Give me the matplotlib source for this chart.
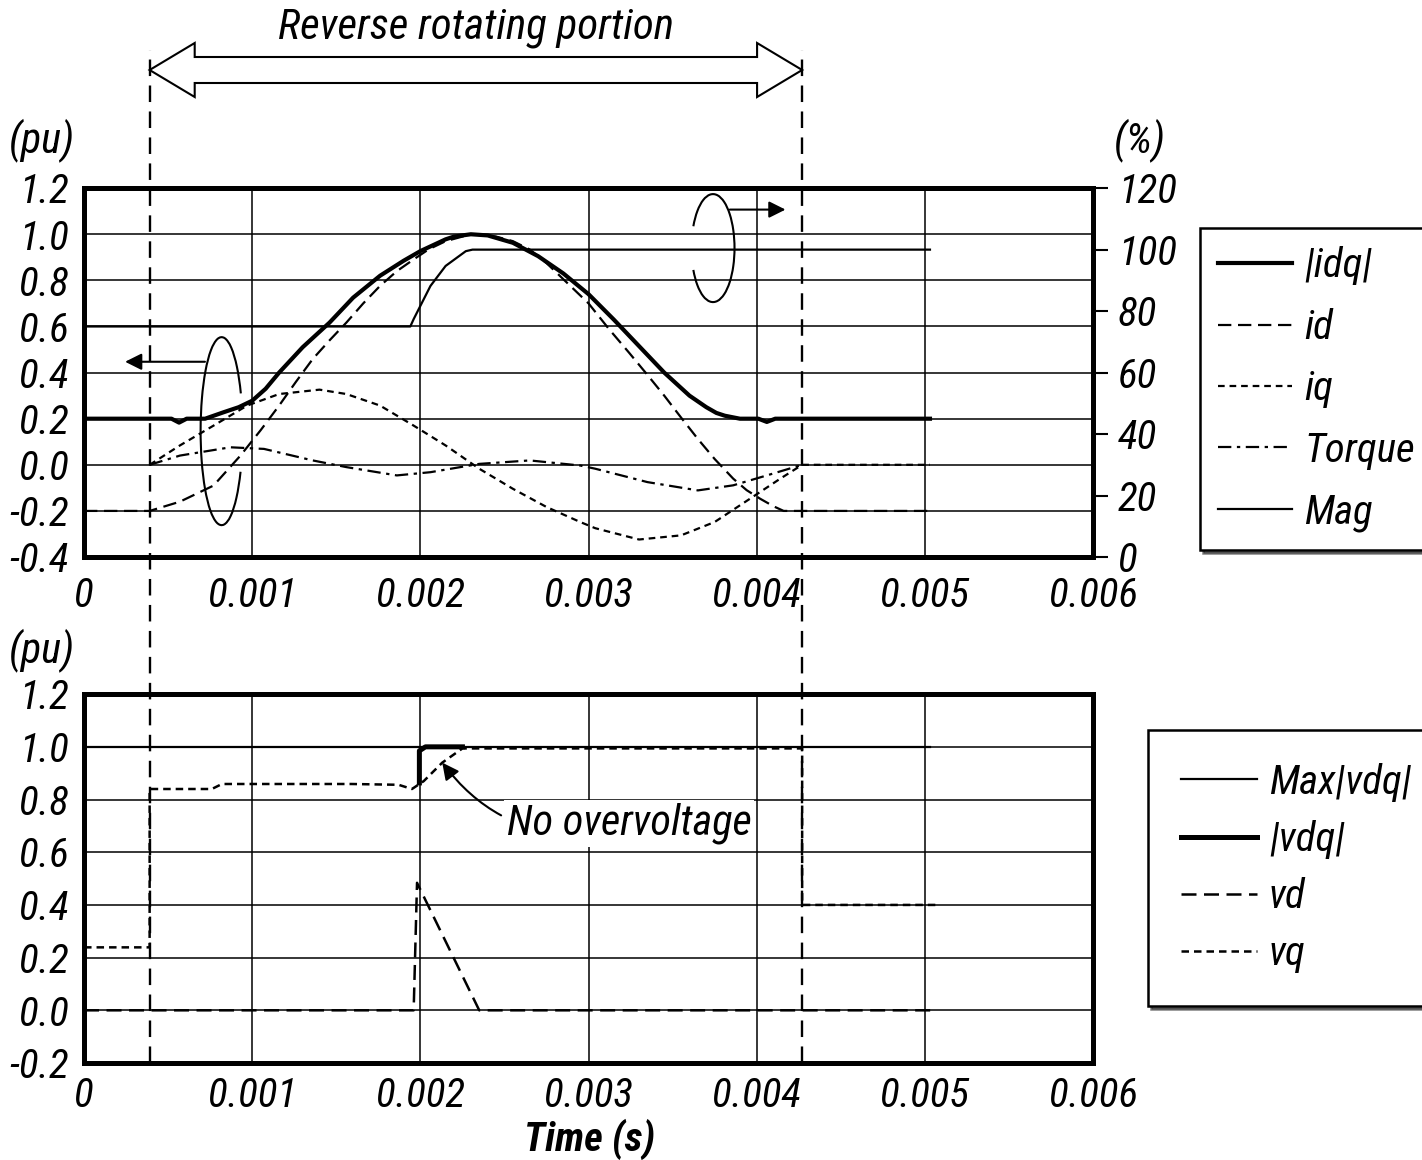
import matplotlib
matplotlib.use("Agg")
import matplotlib.pyplot as plt
import matplotlib.transforms as mtransforms
from matplotlib.patches import Arc, Polygon

plt.rcParams['font.family'] = ['Roboto Condensed', 'Liberation Sans Narrow', 'Liberation Sans', 'DejaVu Sans']
plt.rcParams['font.style'] = 'italic'
plt.rcParams['font.size'] = 29.5
plt.rcParams['axes.unicode_minus'] = False

# ---- dados ----
x_ticks = [0, 0.001, 0.002, 0.003, 0.004, 0.005, 0.006]
x_labels = ['0', '0.001', '0.002', '0.003', '0.004', '0.005', '0.006']
y1_ticks = [-0.4, -0.2, 0.0, 0.2, 0.4, 0.6, 0.8, 1.0, 1.2]
y1_labels = ['-0.4', '-0.2', '0.0', '0.2', '0.4', '0.6', '0.8', '1.0', '1.2']
y2_ticks = [-0.2, 0.0, 0.2, 0.4, 0.6, 0.8, 1.0, 1.2]
y2_labels = ['-0.2', '0.0', '0.2', '0.4', '0.6', '0.8', '1.0', '1.2']
pct_ticks = [0, 20, 40, 60, 80, 100, 120]

# janela de rotacao reversa (s)
rev_start = 0.00039
rev_end = 0.00427

# grafico de cima: correntes (pu) e Mag (%)
idq_t = [0, 0.00052, 0.000565, 0.00061, 0.00072, 0.00083, 0.00092, 0.001, 0.00108, 0.00116,
         0.0013, 0.00146, 0.0016, 0.00176, 0.0019, 0.002, 0.00215, 0.0022, 0.0023, 0.0024,
         0.00255, 0.0027, 0.00285, 0.003, 0.00315, 0.0033, 0.00345, 0.0036, 0.0037,
         0.00376, 0.00381, 0.0039, 0.00401, 0.00406, 0.00411, 0.00503]
idq_v = [0.2, 0.2, 0.183, 0.2, 0.2, 0.228, 0.25, 0.278, 0.33, 0.40,
         0.51, 0.617, 0.725, 0.82, 0.885, 0.927, 0.978, 0.99, 1.0, 0.995,
         0.963, 0.905, 0.83, 0.74, 0.63, 0.515, 0.40, 0.30, 0.25,
         0.225, 0.213, 0.2, 0.2, 0.186, 0.2, 0.2]

id_t = [0, 0.00039, 0.00057, 0.00077, 0.00093, 0.00105, 0.00116, 0.00126, 0.00136, 0.00146,
        0.00156, 0.00166, 0.00176, 0.00186, 0.00196, 0.00205, 0.00215, 0.0023, 0.00245,
        0.00255, 0.00265, 0.00275, 0.00285, 0.003, 0.00312, 0.00324, 0.00335, 0.00345,
        0.00355, 0.00365, 0.00375, 0.00386, 0.00394, 0.00402, 0.0041, 0.00416, 0.00503]
id_v = [-0.2, -0.2, -0.16, -0.09, 0.04, 0.15, 0.257, 0.36, 0.459, 0.54,
        0.617, 0.70, 0.776, 0.84, 0.891, 0.935, 0.97, 1.0, 0.99,
        0.97, 0.934, 0.875, 0.805, 0.70, 0.59, 0.487, 0.39, 0.30,
        0.205, 0.112, 0.025, -0.06, -0.11, -0.147, -0.18, -0.2, -0.2]

iq_t = [0.00039, 0.00057, 0.00077, 0.00097, 0.00116, 0.0014, 0.00156, 0.00176, 0.00196,
        0.00215, 0.00235, 0.00255, 0.00275, 0.00295, 0.00304, 0.0033, 0.00355, 0.00375,
        0.00396, 0.00414, 0.00427, 0.00503]
iq_v = [0.0, 0.084, 0.17, 0.257, 0.307, 0.326, 0.307, 0.257, 0.17,
        0.084, -0.017, -0.104, -0.183, -0.248, -0.275, -0.324, -0.306, -0.248,
        -0.147, -0.06, 0.0, 0.0]

torque_t = [0.00039, 0.00057, 0.00087, 0.00107, 0.00136, 0.00156, 0.00186, 0.00206,
            0.00235, 0.00265, 0.00295, 0.00304, 0.00335, 0.00365, 0.00386, 0.00406, 0.00427]
torque_v = [0.0, 0.04, 0.076, 0.069, 0.019, -0.01, -0.046, -0.032,
            0.004, 0.019, -0.003, -0.017, -0.075, -0.111, -0.089, -0.046, 0.0]

mag_t = [0, 0.00194, 0.00196, 0.00206, 0.00215, 0.00227, 0.00231, 0.00503]
mag_v = [75, 75, 77.4, 88.2, 94.7, 99.5, 100, 100]

# grafico de baixo: tensoes (pu)
maxvdq_t = [0, 0.00503]
maxvdq_v = [1.0, 1.0]

vdq_t = [0.001994, 0.001994, 0.00203, 0.00225]
vdq_v = [0.863, 0.985, 1.0, 1.0]

vd_t = [0, 0.00196, 0.00198, 0.00235, 0.00507]
vd_v = [0, 0, 0.484, 0, 0]

vq_t = [0, 0.00039, 0.00039, 0.00076, 0.00082, 0.00159, 0.00187, 0.00195, 0.00202,
        0.00213, 0.00225, 0.00427, 0.00427, 0.00507]
vq_v = [0.239, 0.239, 0.84, 0.84, 0.859, 0.859, 0.856, 0.84, 0.87,
        0.94, 0.994, 0.994, 0.40, 0.40]

# ---- figura ----
fig = plt.figure(figsize=(14.22, 11.6), dpi=100)
ax1 = fig.add_axes([0.0591, 0.5198, 0.7096, 0.318])
ax2 = fig.add_axes([0.0591, 0.0836, 0.7096, 0.318])
ax2.set_facecolor('none')


def estilo(ax, yt, yl, xpad):
    ax.set_xlim(0, 0.006)
    ax.set_ylim(yt[0], yt[-1])
    ax.set_xticks(x_ticks)
    ax.set_xticklabels(x_labels)
    ax.set_yticks(yt)
    ax.set_yticklabels(yl)
    ax.grid(True, color='black', lw=1.1)
    ax.tick_params(axis='y', length=0, pad=11)
    ax.tick_params(axis='x', length=0, pad=xpad)
    for s in ax.spines.values():
        s.set_linewidth(3.6)


estilo(ax1, y1_ticks, y1_labels, 14)
estilo(ax2, y2_ticks, y2_labels, 10)

# curvas de cima
l_idq, = ax1.plot(idq_t, idq_v, color='black', lw=3.0, label='|idq|')
l_id, = ax1.plot(id_t, id_v, color='black', lw=1.6, ls=(0, (6, 3)), label='id')
l_iq, = ax1.plot(iq_t, iq_v, color='black', lw=1.6, ls=(0, (3, 2.2)), label='iq')
l_tq, = ax1.plot(torque_t, torque_v, color='black', lw=1.6, ls=(0, (6, 2.5, 1.5, 2.5)), label='Torque')

ax1r = ax1.twinx()
ax1r.set_ylim(0, 120)
ax1r.set_yticks(pct_ticks)
ax1r.set_yticklabels([str(p) for p in pct_ticks])
ax1r.tick_params(axis='y', direction='out', length=11, width=1.5, pad=7)
for s in ax1r.spines.values():
    s.set_linewidth(3.6)
l_mag, = ax1r.plot(mag_t, mag_v, color='black', lw=1.6, label='Mag')

# curvas de baixo
l_max, = ax2.plot(maxvdq_t, maxvdq_v, color='black', lw=1.6, label='Max|vdq|')
l_vdq, = ax2.plot(vdq_t, vdq_v, color='black', lw=3.6, label='|vdq|')
l_vd, = ax2.plot(vd_t, vd_v, color='black', lw=1.8, ls=(0, (6, 3)), label='vd')
l_vq, = ax2.plot(vq_t, vq_v, color='black', lw=1.8, ls=(0, (3, 2)), label='vq')

# linhas verticais tracejadas da regiao reversa
for xv in (rev_start, rev_end):
    ax1.axvline(xv, ymin=-1.371, ymax=1.374, color='black', lw=1.7,
                ls=(0, (7, 4)), clip_on=False, zorder=5)

# seta dupla vazada no topo
trans = mtransforms.blended_transform_factory(ax1.transData, fig.transFigure)
yc, h, H, hl = 1 - 70 / 1160, 13 / 1160, 27 / 1160, 0.000268
pts = [(rev_start, yc), (rev_start + hl, yc + H), (rev_start + hl, yc + h),
       (rev_end - hl, yc + h), (rev_end - hl, yc + H), (rev_end, yc),
       (rev_end - hl, yc - H), (rev_end - hl, yc - h), (rev_start + hl, yc - h),
       (rev_start + hl, yc - H)]
fig.add_artist(Polygon(pts, closed=True, transform=trans, fc='white', ec='black', lw=1.5))
fig.text((rev_start + rev_end) / 2 / 0.006 * 0.7096 + 0.0591, 1 - 28 / 1160,
         'Reverse rotating portion', ha='center', va='center', fontsize=31)

# elipses de indicacao de eixo
for cx, cy, w, hh, t1, t2 in [(0.000818, 0.146, 0.42, 1.88, 63, 295),
                              (0.00374, 0.94, 0.43, 1.08, -132, 132)]:
    tr = fig.dpi_scale_trans + mtransforms.ScaledTranslation(cx, cy, ax1.transData)
    ax1.add_patch(Arc((0, 0), w, hh, theta1=t1, theta2=t2, transform=tr,
                      color='black', lw=1.5, clip_on=False, zorder=6))

ax1.annotate('', xy=(0.000244, 0.447), xytext=(0.000719, 0.447),
             arrowprops=dict(arrowstyle='-|>', lw=1.5, color='black',
                             mutation_scale=25, shrinkA=0, shrinkB=0))
ax1.annotate('', xy=(0.004171, 1.107), xytext=(0.00384, 1.107),
             arrowprops=dict(arrowstyle='-|>', lw=1.5, color='black',
                             mutation_scale=25, shrinkA=0, shrinkB=0))

# anotacao de sobretensao
ax2.annotate('No overvoltage', xy=(0.00213, 0.94), xytext=(0.00324, 0.71),
             ha='center', va='center', fontsize=30.5,
             bbox=dict(fc='white', ec='none', pad=2),
             arrowprops=dict(arrowstyle='-|>', lw=1.5, color='black', mutation_scale=25,
                             connectionstyle='arc3,rad=-0.35', shrinkA=2, shrinkB=0))

# rotulos
fig.text(42 / 1422, 1 - 140 / 1160, '(pu)', ha='center', va='center', fontsize=30.5)
fig.text(42 / 1422, 1 - 650 / 1160, '(pu)', ha='center', va='center', fontsize=30.5)
fig.text(1140 / 1422, 1 - 140 / 1160, '(%)', ha='center', va='center', fontsize=30.5)
fig.text(590 / 1422, 1 - 1139 / 1160, 'Time (s)', ha='center', va='center', weight='bold', fontsize=29)

# legendas
leg_kw = dict(loc='upper left', borderaxespad=0, fancybox=False, edgecolor='black',
              framealpha=1, shadow={'color': 'black'}, handletextpad=0.3)
lg1 = fig.legend([l_idq, l_id, l_iq, l_tq, l_mag], [l.get_label() for l in [l_idq, l_id, l_iq, l_tq, l_mag]],
                 bbox_to_anchor=(1200 / 1422, 1 - 228 / 1160), labelspacing=0.56,
                 borderpad=0.45, handlelength=1.8, **leg_kw)
lg1.get_frame().set_linewidth(1.8)
lg2 = fig.legend([l_max, l_vdq, l_vd, l_vq], [l.get_label() for l in [l_max, l_vdq, l_vd, l_vq]],
                 bbox_to_anchor=(1148 / 1422, 1 - 730 / 1160), labelspacing=0.45,
                 borderpad=0.8, handlelength=1.85, **leg_kw)
lg2.get_frame().set_linewidth(1.8)

fig.savefig('out.png', dpi=100)
